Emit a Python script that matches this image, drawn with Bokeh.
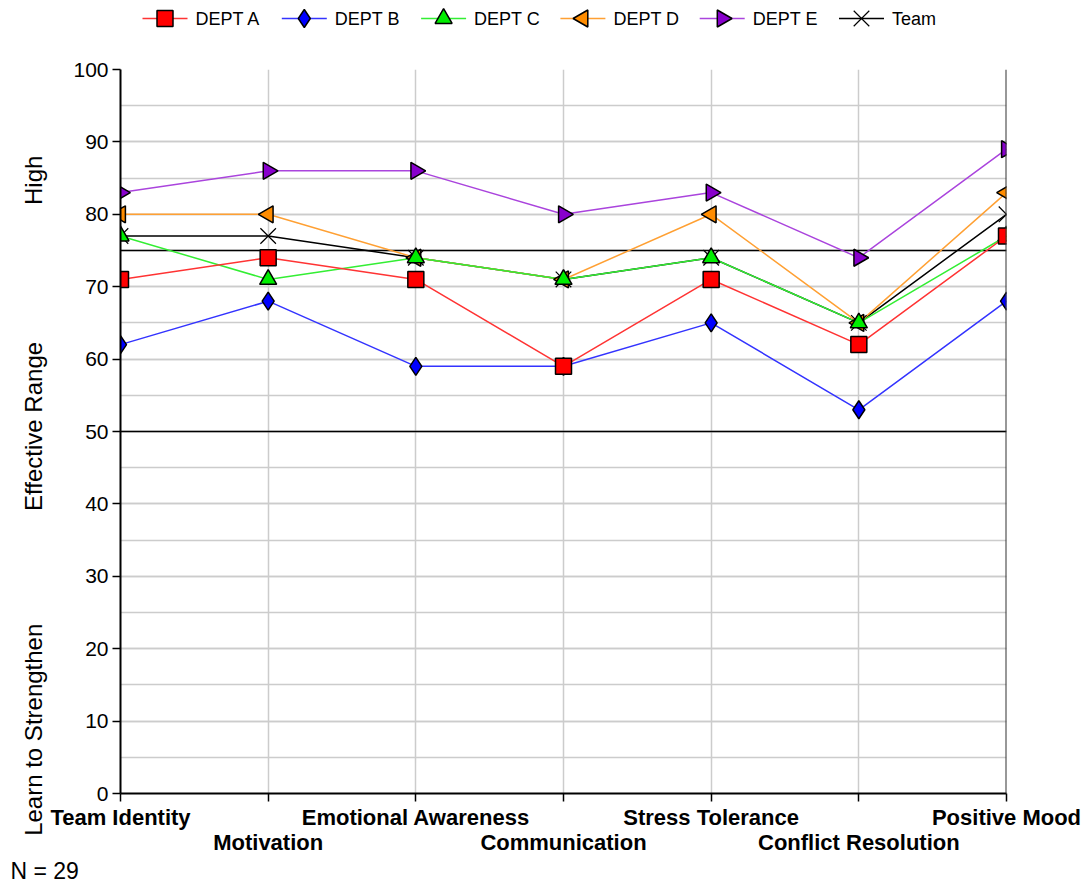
import math
from bokeh.plotting import figure
from bokeh.models import (Range1d, SingleIntervalTicker, FixedTicker, Span, LinearAxis,
                          Title)
from bokeh.layouts import column
from bokeh.embed import file_html
from bokeh.resources import INLINE
from bokeh.core.properties import value

# ---------------- data ----------------
categories = ["Team Identity", "Motivation", "Emotional Awareness", "Communication",
              "Stress Tolerance", "Conflict Resolution", "Positive Mood"]
dept_a = [71, 74, 71, 59, 71, 62, 77]
dept_b = [62, 68, 59, 59, 65, 53, 68]
dept_c = [77, 71, 74, 71, 74, 65, 77]
dept_d = [80, 80, 74, 71, 80, 65, 83]
dept_e = [83, 86, 86, 80, 83, 74, 89]
team = [77, 77, 74, 71, 74, 65, 80]
series_names = ["DEPT A", "DEPT B", "DEPT C", "DEPT D", "DEPT E", "Team"]
band_edges = [50, 75]
zone_labels = ["High", "Effective Range", "Learn to Strengthen"]
zone_centers = [84.7, 50.7, 8.8]
note = "N = 29"

series_values = [dept_a, dept_b, dept_c, dept_d, dept_e, team]

# ---------------- styles ----------------
FONT = "Liberation Sans"
styles = [
    dict(line="#ff3333", fill="#ff0000", marker="square", size=16, angle=0.0),
    dict(line="#3333ff", fill="#0000ff", marker="diamond", size=18, angle=0.0),
    dict(line="#33ee33", fill="#00ee00", marker="triangle", size=17, angle=0.0),
    dict(line="#ffa033", fill="#ff8c00", marker="triangle", size=17, angle=math.pi / 2),
    dict(line="#aa44dd", fill="#8800cc", marker="triangle", size=17, angle=-math.pi / 2),
    dict(line="#000000", fill=None, marker="x", size=22, angle=0.0),
]

xs = list(range(len(categories)))

W = 1085
FRAME_L = 120
FRAME_R = 1006
LEG_H = 38
MAIN_H = 844

# ---------------- main figure ----------------
p = figure(width=W, height=MAIN_H, x_range=Range1d(0, len(categories) - 1),
           y_range=Range1d(0, 100), output_backend="svg", toolbar_location=None,
           min_border_left=FRAME_L, min_border_right=W - FRAME_R, min_border_top=31,
           min_border_bottom=89)
p.outline_line_color = None
p.background_fill_color = "white"
p.border_fill_color = "white"

# y axis
p.yaxis.ticker = SingleIntervalTicker(interval=10, num_minor_ticks=2)
p.yaxis.major_tick_out = 8
p.yaxis.major_tick_in = 0
p.yaxis.minor_tick_out = 0
p.yaxis.minor_tick_in = 0
p.yaxis.axis_line_width = 2
p.yaxis.axis_line_color = "black"
p.yaxis.major_tick_line_width = 1.5
p.yaxis.major_label_standoff = 4
p.yaxis.major_label_text_font = FONT
p.yaxis.major_label_text_font_size = "21px"
p.yaxis.major_label_text_color = "black"
p.ygrid.grid_line_color = "#cccccc"
p.ygrid.grid_line_width = 1.5
p.ygrid.minor_grid_line_color = "#cccccc"
p.ygrid.minor_grid_line_width = 1.5

# zone labels as an extra left axis
zone_axis = LinearAxis(ticker=FixedTicker(ticks=zone_centers),
                       major_label_overrides={c: t for c, t in zip(zone_centers, zone_labels)},
                       major_label_orientation="parallel",
                       axis_line_color=None, major_tick_line_color=None,
                       major_tick_out=0, major_tick_in=0,
                       minor_tick_line_color=None, major_label_standoff=23,
                       major_label_text_font=FONT, major_label_text_font_size="24px",
                       major_label_text_color="black")
p.add_layout(zone_axis, "left")

# x axis: first row of category labels
even_over = {i: (categories[i] if i % 2 == 0 else "") for i in xs}
p.xaxis.ticker = FixedTicker(ticks=xs)
p.xaxis.major_label_overrides = even_over
p.xaxis.major_tick_out = 8
p.xaxis.major_tick_in = 0
p.xaxis.minor_tick_out = 0
p.xaxis.axis_line_width = 2
p.xaxis.axis_line_color = "black"
p.xaxis.major_tick_line_width = 1.5
p.xaxis.major_label_standoff = 3
p.xaxis.major_label_text_font = FONT
p.xaxis.major_label_text_font_style = "bold"
p.xaxis.major_label_text_font_size = "22px"
p.xaxis.major_label_text_color = "black"
p.xgrid.ticker = FixedTicker(ticks=xs)
p.xgrid.grid_line_color = "#cccccc"
p.xgrid.grid_line_width = 1.5

# second row of category labels
odd_ticks = [i for i in xs if i % 2 == 1]
row2 = LinearAxis(ticker=FixedTicker(ticks=odd_ticks),
                  major_label_overrides={i: categories[i] for i in odd_ticks},
                  axis_line_color=None, major_tick_line_color=None,
                  major_tick_out=0, major_tick_in=0,
                  minor_tick_line_color=None, major_label_standoff=-3,
                  major_label_text_font=FONT, major_label_text_font_style="bold",
                  major_label_text_font_size="22px", major_label_text_color="black")
p.add_layout(row2, "below")

# N note
p.add_layout(Title(text=note, align="left", offset=-110, text_font=FONT,
                   text_font_size="23px", text_font_style="normal",
                   text_color="black", standoff=-4), "below")

# reference bands
for v in band_edges:
    p.add_layout(Span(location=v, dimension="width", line_color="black",
                      line_width=1.5, level="underlay"))
p.add_layout(Span(location=len(categories) - 1, dimension="height",
                  line_color="#333333", line_width=2))

# series: lines first, then markers (A on top)
order = [5, 4, 3, 2, 1, 0]
for i in order:
    st = styles[i]
    p.line(xs, series_values[i], line_color=st["line"], line_width=1.5)
for i in order:
    st = styles[i]
    if st["marker"] == "x":
        p.scatter(xs, series_values[i], marker="x", size=st["size"],
                  line_color="black", line_width=1.2)
    else:
        p.scatter(xs, series_values[i], marker=st["marker"], size=st["size"],
                  angle=st["angle"], fill_color=st["fill"], line_color="black",
                  line_width=1.5)

# ---------------- legend strip (same frame as main plot) ----------------
lf = figure(width=W, height=LEG_H, x_range=Range1d(FRAME_L, FRAME_R),
            y_range=Range1d(0, LEG_H), x_axis_type=None, y_axis_type=None,
            output_backend="svg", toolbar_location=None,
            min_border_left=FRAME_L, min_border_right=W - FRAME_R,
            min_border_top=0, min_border_bottom=0)
lf.outline_line_color = None
lf.grid.visible = False

leg_x0 = 142.0
leg_pitch = 139.3
leg_line = 45.0
leg_y = LEG_H - 18
for i, name in enumerate(series_names):
    st = styles[i]
    x0 = leg_x0 + i * leg_pitch
    lf.segment(x0=[x0], y0=[leg_y], x1=[x0 + leg_line], y1=[leg_y],
               line_color=st["line"], line_width=1.5)
    if st["marker"] == "x":
        lf.scatter([x0 + leg_line / 2], [leg_y], marker="x", size=st["size"],
                   line_color="black", line_width=1.2)
    else:
        lf.scatter([x0 + leg_line / 2], [leg_y], marker=st["marker"], size=st["size"],
                   angle=st["angle"], fill_color=st["fill"], line_color="black",
                   line_width=1.5)
    lf.text([x0 + leg_line + 8], [leg_y], text=[name], text_font=value(FONT),
            text_font_size="18px", text_align="left", text_baseline="middle",
            text_color="black")

layout = column(lf, p, spacing=0)
open("out.html", "w").write(file_html(layout, INLINE))
